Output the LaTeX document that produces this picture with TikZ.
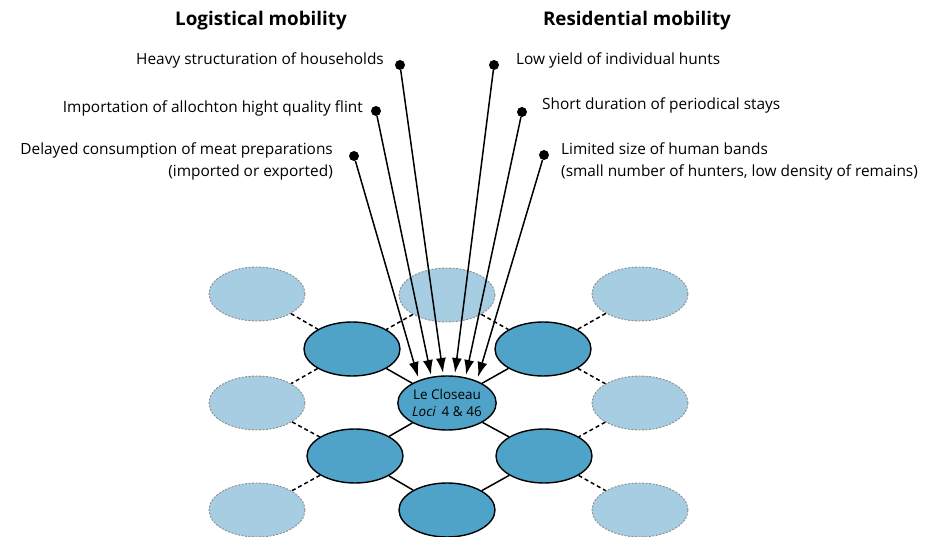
\documentclass[tikz,border=0pt]{standalone}
\usepackage{fontspec}
\setmainfont{Open Sans}
\usetikzlibrary{shapes.geometric, arrows.meta}
\definecolor{darkblue}{HTML}{4FA3C9}
\definecolor{lightblue}{HTML}{A7CDE3}
\definecolor{rimgray}{HTML}{8C8C8C}

\begin{document}
\begin{tikzpicture}[x=1pt,y=-1pt]

\tikzset{site/.style = {shape=ellipse,draw,line width=1.4pt,fill=darkblue,minimum width=96pt,minimum height=54pt,inner sep=0pt}}
\tikzset{othersite/.style = {site,fill=lightblue,draw=rimgray,line width=0.9pt,dash pattern=on 2pt off 1.5pt}}
\tikzset{dot/.style = {shape=circle,fill=black,inner sep=0pt,minimum size=10pt}}
\tikzset{cause/.style = {font=\fontsize{15.4}{22}\selectfont,inner sep=0pt}}
\tikzset{heading/.style = {font=\fontsize{18.8}{22}\selectfont\bfseries,inner sep=0pt}}
\tikzset{link/.style = {line width=1.5pt}}
\tikzset{dlink/.style = {line width=1.5pt,dash pattern=on 4pt off 3pt}}
\tikzset{edge/.style = {line width=1.5pt,-{Latex[length=15pt,width=10pt]}}}

\useasboundingbox (0,0) rectangle (930,537);

%headings
\node[heading] (logi) at (261,21) {Logistical mobility};
\node[heading] (resi) at (637,21) {Residential mobility};
%causes
\node[cause, anchor=east] (heavy) at (384,60) {Heavy structuration of households};
\node[cause, anchor=east] (flint) at (363,108) {Importation of allochton hight quality flint};
\node[cause, anchor=east, align=right] (meat) at (333,161) {Delayed consumption of meat preparations\\(imported or exported)};
\node[cause, anchor=west] (hunts) at (516,60) {Low yield of individual hunts};
\node[cause, anchor=west] (stays) at (542,105) {Short duration of periodical stays};
\node[cause, anchor=west, align=left] (bands) at (561,161) {Limited size of human bands\\(small number of hunters, low density of remains)};
%dots
\node[dot] (d1) at (354,156) {};
\node[dot] (d2) at (376,111) {};
\node[dot] (d3) at (400,65) {};
\node[dot] (d4) at (494,65) {};
\node[dot] (d5) at (522,112) {};
\node[dot] (d6) at (544,155) {};
%other sites
\node[othersite] (tl) at (257,294) {};
\node[othersite] (tc) at (447,295) {};
\node[othersite] (tr) at (640,294) {};
\node[othersite] (ml) at (257,403) {};
\node[othersite] (mr) at (640,403) {};
\node[othersite] (bl) at (257,510) {};
\node[othersite] (br) at (640,510) {};
%sites
\node[site] (nw) at (352,349) {};
\node[site] (ne) at (543,349) {};
\node[site, align=center, font=\fontsize{13.5}{17}\selectfont] (closeau) at (447,403) {Le Closeau\\\textit{Loci}\, 4 \& 46};
\node[site] (sw) at (355,456) {};
\node[site] (se) at (544,456) {};
\node[site] (s) at (447,510) {};
%tips
\coordinate (t1) at (418,377);
\coordinate (t2) at (431,375);
\coordinate (t3) at (443,373);
\coordinate (t4) at (455,373);
\coordinate (t5) at (466,375);
\coordinate (t6) at (478,377);
%edges
\draw [link] (closeau) -- (nw);
\draw [link] (closeau) -- (ne);
\draw [link] (closeau) -- (sw);
\draw [link] (closeau) -- (se);
\draw [link] (sw) -- (s);
\draw [link] (se) -- (s);
\draw [dlink] (tl) -- (nw);
\draw [dlink] (tc) -- (nw);
\draw [dlink] (tc) -- (ne);
\draw [dlink] (tr) -- (ne);
\draw [dlink] (nw) -- (ml);
\draw [dlink] (ne) -- (mr);
\draw [dlink] (ml) -- (sw);
\draw [dlink] (mr) -- (se);
\draw [dlink] (sw) -- (bl);
\draw [dlink] (se) -- (br);
%arrows
\draw [edge] (d1) -- (t1);
\draw [edge] (d2) -- (t2);
\draw [edge] (d3) -- (t3);
\draw [edge] (d4) -- (t4);
\draw [edge] (d5) -- (t5);
\draw [edge] (d6) -- (t6);

\end{tikzpicture}
\end{document}
